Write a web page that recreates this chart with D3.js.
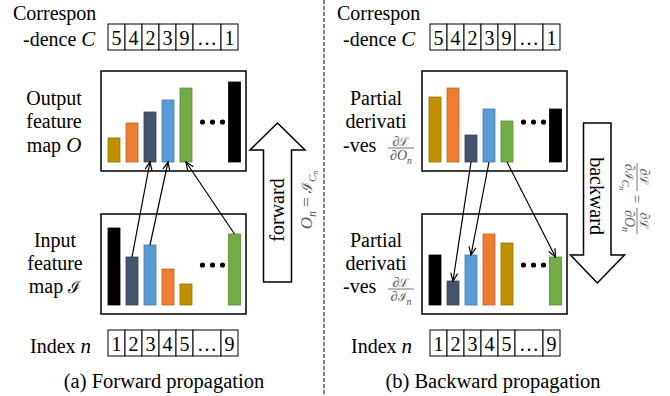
<!DOCTYPE html>
<html>
<head>
<meta charset="utf-8">
<script src="https://cdn.jsdelivr.net/npm/d3@7"></script>
<style>
  body { margin: 0; background: #fff; }
  text { font-family: "Liberation Serif", "Times New Roman", serif; fill: #000; }
</style>
</head>
<body>
<svg id="fig" width="670" height="396"></svg>
<script>
// ---- data ----
const correspondence = ["5", "4", "2", "3", "9", "…", "1"];
const indices = ["1", "2", "3", "4", "5", "…", "9"];
const palette = { black: "#000000", slate: "#44546A", blue: "#5B9BD5", orange: "#ED7D31", gold: "#BF9000", green: "#70AD47" };

const outputColors = ["gold", "orange", "slate", "blue", "green", "black"];
const inputColors = ["black", "slate", "blue", "orange", "gold", "green"];

const fwdOutputValues = [24, 39, 50, 62, 74, 80];
const fwdInputValues = [77, 48, 60, 36, 21, 71];
const bwdOutputValues = [65, 74, 27, 53, 41, 53];
const bwdInputValues = [50, 24, 50, 71, 62, 48];

const fwdLinks = [[1, 2], [2, 3], [5, 4]];   // input bar -> output bar
const bwdLinks = [[2, 1], [3, 2], [4, 5]];   // output bar -> input bar

const captions = ["(a) Forward propagation", "(b) Backward propagation"];
const mathColor = "#555";

const svg = d3.select("#fig");

svg.append("defs").append("marker")
  .attr("id", "head")
  .attr("markerUnits", "userSpaceOnUse")
  .attr("viewBox", "-10 -5 12 10")
  .attr("refX", 0).attr("refY", 0)
  .attr("markerWidth", 12).attr("markerHeight", 10)
  .attr("orient", "auto")
  .append("path")
  .attr("d", "M-8,-3.5L0,0L-8,3.5")
  .attr("fill", "none").attr("stroke", "#000").attr("stroke-width", 1.2);

// dashed separator
svg.append("line")
  .attr("x1", 324).attr("x2", 324).attr("y1", 0).attr("y2", 396)
  .attr("stroke", "#000").attr("stroke-width", 1).attr("stroke-dasharray", "4,2");

// ---- helpers ----
function cellRow(x0, y0, labels) {
  const widths = labels.map(l => l === "…" ? 28 : 17);
  const xs = d3.cumsum([0, ...widths]);
  const g = svg.append("g").attr("transform", `translate(${x0},${y0})`);
  const cells = g.selectAll("g").data(labels).join("g")
    .attr("transform", (d, i) => `translate(${xs[i]},0)`);
  cells.append("rect")
    .attr("width", (d, i) => widths[i]).attr("height", 26)
    .attr("fill", "#fff").attr("stroke", "#000").attr("stroke-width", 1);
  cells.append("text")
    .attr("x", (d, i) => widths[i] / 2).attr("y", 21)
    .attr("text-anchor", "middle").attr("font-size", 20)
    .text(d => d);
}

function barX(boxLeft, i) {
  return i < 5 ? boxLeft + 7 + i * 18 : boxLeft + 127.5;
}

function featureBox(boxLeft, boxTop, values, colors) {
  const bottom = boxTop + 91;
  const y = d3.scaleLinear().domain([0, 100]).range([bottom, bottom - 100]);
  svg.append("rect")
    .attr("x", boxLeft).attr("y", boxTop).attr("width", 145).attr("height", 100)
    .attr("fill", "#fff").attr("stroke", "#000").attr("stroke-width", 1.5);
  svg.append("g").selectAll("rect").data(values).join("rect")
    .attr("x", (d, i) => barX(boxLeft, i))
    .attr("y", d => y(d))
    .attr("width", 12)
    .attr("height", d => bottom - y(d))
    .attr("fill", (d, i) => palette[colors[i]])
    .attr("stroke", (d, i) => d3.color(palette[colors[i]]).darker(0.6))
    .attr("stroke-width", 0.8);
  svg.append("g").selectAll("circle").data([0, 1, 2]).join("circle")
    .attr("cx", d => boxLeft + 101.5 + d * 10)
    .attr("cy", bottom - 40)
    .attr("r", 2.6)
    .attr("fill", "#000");
  return { top: i => [barX(boxLeft, i) + 6, y(values[i])], bottom: i => [barX(boxLeft, i) + 6, bottom] };
}

function links(pairs, from, to) {
  svg.append("g").selectAll("line").data(pairs).join("line")
    .attr("x1", d => from(d[0])[0]).attr("y1", d => from(d[0])[1])
    .attr("x2", d => to(d[1])[0]).attr("y2", d => to(d[1])[1])
    .attr("stroke", "#000").attr("stroke-width", 1.2)
    .attr("marker-end", "url(#head)");
}

function lines(x, ys, rows, anchor = "middle") {
  rows.forEach((r, k) => {
    const t = svg.append("text").attr("x", x).attr("y", ys[k]).attr("font-size", 20).attr("text-anchor", anchor);
    r.forEach(part => {
      const s = t.append("tspan").text(part.t);
      if (part.it) s.attr("font-style", "italic").attr("font-size", 21);
      if (part.cal) s.attr("font-family", "DejaVu Serif").attr("font-size", 17);
    });
  });
}

// fraction  num / den, centred on cx, bar at yBar
function frac(parent, cx, yBar, num, den, size) {
  const g = parent.append("g");
  const w = 26;
  const put = (parts, yy) => {
    const t = g.append("text").attr("x", cx).attr("y", yy).attr("text-anchor", "middle")
      .attr("font-size", size).style("fill", mathColor);
    parts.forEach(p => {
      const s = t.append("tspan").text(p.t).style("fill", mathColor);
      if (p.it) s.attr("font-style", "italic");
      if (p.cal) s.attr("font-family", "DejaVu Serif").attr("font-size", size * 0.85);
      if (p.sub) s.attr("font-size", size * 0.7).attr("font-style", "italic").attr("dy", size * 0.25);
      if (p.subsub) s.attr("font-size", size * 0.55).attr("font-style", "italic").attr("dy", size * 0.15);
    });
    return t;
  };
  put(num, yBar - 2.5);
  const d = put(den, yBar + 12);
  const bw = Math.max(w, d.node().getComputedTextLength() + 2);
  g.append("line").attr("x1", cx - bw / 2).attr("x2", cx + bw / 2)
    .attr("y1", yBar).attr("y2", yBar).attr("stroke", mathColor).attr("stroke-width", 0.8);
  return g;
}

// ---- (a) forward ----
svg.append("text").attr("x", 13).attr("y", 20).attr("font-size", 20).text("Correspon");
lines(23, [46], [[{ t: "-dence " }, { t: "C", it: 1 }]], "start");
cellRow(108, 24, correspondence);

lines(54, [105, 128, 152], [[{ t: "Output" }], [{ t: "feature" }], [{ t: "map " }, { t: "O", it: 1 }]]);
const fOut = featureBox(101, 71, fwdOutputValues, outputColors);
lines(55, [247, 270, 293], [[{ t: "Input" }], [{ t: "feature" }], [{ t: "map " }, { t: "ℐ", cal: 1 }]]);
const fIn = featureBox(101, 214, fwdInputValues, inputColors);
links(fwdLinks, fIn.top, fOut.bottom);

lines(30, [353], [[{ t: "Index " }, { t: "n", it: 1 }]], "start");
cellRow(108, 330, indices);

// up arrow
svg.append("path")
  .attr("d", d3.line()([[263.5, 282], [263.5, 150], [250, 150], [277.5, 123], [305, 150], [291.5, 150], [291.5, 282]]) + "Z")
  .attr("fill", "#fff").attr("stroke", "#000").attr("stroke-width", 1.5);
svg.append("text").attr("transform", "translate(284,210) rotate(-90)")
  .attr("text-anchor", "middle").attr("font-size", 20).text("forward");
{
  const t = svg.append("text").attr("transform", "translate(312,200) rotate(-90)")
    .attr("text-anchor", "middle").attr("font-size", 17).style("fill", mathColor);
  t.append("tspan").text("O").attr("font-style", "italic");
  t.append("tspan").text("n").attr("font-style", "italic").attr("font-size", 12).attr("dy", 4);
  t.append("tspan").text(" = ").attr("dy", -4);
  t.append("tspan").text("ℐ").attr("font-family", "DejaVu Serif").attr("font-size", 15);
  t.append("tspan").text("C").attr("font-style", "italic").attr("font-size", 11).attr("dy", 4);
  t.append("tspan").text("n").attr("font-style", "italic").attr("font-size", 8).attr("dy", 2);
}

svg.append("text").attr("x", 164).attr("y", 388).attr("text-anchor", "middle").attr("font-size", 20.5).text(captions[0]);

// ---- (b) backward ----
svg.append("text").attr("x", 337).attr("y", 20).attr("font-size", 20).text("Correspon");
lines(343, [46], [[{ t: "-dence " }, { t: "C", it: 1 }]], "start");
cellRow(430, 24, correspondence);

lines(376, [105, 128], [[{ t: "Partial" }], [{ t: "derivati" }]]);
lines(343, [152], [[{ t: "-ves" }]], "start");
frac(svg, 401, 148, [{ t: "∂" }, { t: "ℒ", cal: 1 }], [{ t: "∂" }, { t: "O", it: 1 }, { t: "n", sub: 1 }], 14);
const bOut = featureBox(422, 71, bwdOutputValues, outputColors);

lines(376, [247, 270], [[{ t: "Partial" }], [{ t: "derivati" }]]);
lines(343, [293], [[{ t: "-ves" }]], "start");
frac(svg, 401, 289, [{ t: "∂" }, { t: "ℒ", cal: 1 }], [{ t: "∂" }, { t: "ℐ", cal: 1 }, { t: "n", sub: 1 }], 14);
const bIn = featureBox(422, 214, bwdInputValues, inputColors);
links(bwdLinks, bOut.bottom, bIn.top);

lines(351, [353], [[{ t: "Index " }, { t: "n", it: 1 }]], "start");
cellRow(430, 330, indices);

// down arrow
svg.append("path")
  .attr("d", d3.line()([[583.5, 123], [611, 123], [611, 255], [624.5, 255], [597.3, 283], [570.5, 255], [583.5, 255]]) + "Z")
  .attr("fill", "#fff").attr("stroke", "#000").attr("stroke-width", 1.5);
svg.append("text").attr("transform", "translate(590,196) rotate(90)")
  .attr("text-anchor", "middle").attr("font-size", 20).text("backward");
{
  const g = svg.append("g").attr("transform", "translate(637,197) rotate(90)");
  frac(g, -20, 0, [{ t: "∂" }, { t: "ℒ", cal: 1 }], [{ t: "∂" }, { t: "ℐ", cal: 1 }, { t: "C", sub: 1 }, { t: "n", subsub: 1 }], 14);
  g.append("text").attr("x", 2).attr("y", 5).attr("text-anchor", "middle").attr("font-size", 15)
    .style("fill", mathColor).text("=");
  frac(g, 24, 0, [{ t: "∂" }, { t: "ℒ", cal: 1 }], [{ t: "∂" }, { t: "O", it: 1 }, { t: "n", sub: 1 }], 14);
}

svg.append("text").attr("x", 493).attr("y", 388).attr("text-anchor", "middle").attr("font-size", 20.5).text(captions[1]);
</script>
</body>
</html>
